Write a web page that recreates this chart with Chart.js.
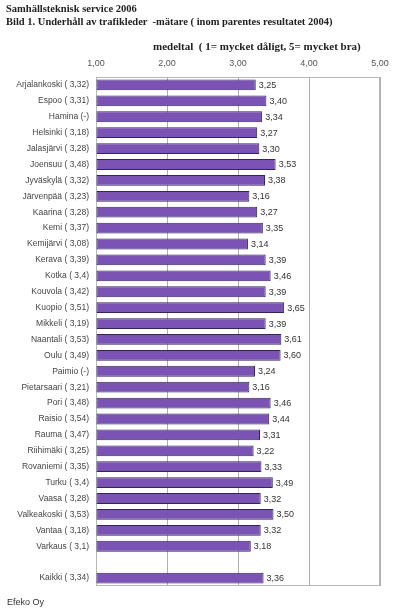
<!DOCTYPE html>
<html><head><meta charset="utf-8">
<script src="https://cdn.jsdelivr.net/npm/chart.js@4"></script>
<style>
html,body{margin:0;padding:0;background:#fff;width:397px;height:615px;overflow:hidden;}
#wrap{position:absolute;left:0;top:0;width:397px;height:615px;}
.t{position:absolute;font-family:"Liberation Serif","Times New Roman",serif;font-weight:bold;color:#222;white-space:nowrap;}
.f{position:absolute;font-family:"Liberation Sans",Arial,sans-serif;color:#333;font-size:9px;}
</style></head>
<body>
<div id="wrap"><canvas id="c" width="397" height="615"></canvas></div>
<div class="t" style="left:6px;top:3px;font-size:10.5px;">Samhällsteknisk service 2006</div>
<div class="t" style="left:6px;top:16px;font-size:10.5px;">Bild 1. Underhåll av trafikleder &nbsp;-mätare ( inom parentes resultatet 2004)</div>
<div class="t" style="left:153px;top:40px;font-size:11px;">medeltal &nbsp;( 1= mycket dåligt, 5= mycket bra)</div>
<div class="f" style="left:7px;top:597px;">Efeko Oy</div>
<script>
const categories = [
  "Arjalankoski ( 3,32)","Espoo ( 3,31)","Hamina (-)","Helsinki ( 3,18)","Jalasjärvi ( 3,28)",
  "Joensuu ( 3,48)","Jyväskylä ( 3,32)","Järvenpää ( 3,23)","Kaarina ( 3,28)","Kemi ( 3,37)",
  "Kemijärvi ( 3,08)","Kerava ( 3,39)","Kotka ( 3,4)","Kouvola ( 3,42)","Kuopio ( 3,51)",
  "Mikkeli ( 3,19)","Naantali ( 3,53)","Oulu ( 3,49)","Paimio (-)","Pietarsaari ( 3,21)",
  "Pori ( 3,48)","Raisio ( 3,54)","Rauma ( 3,47)","Riihimäki ( 3,25)","Rovaniemi ( 3,35)",
  "Turku ( 3,4)","Vaasa ( 3,28)","Valkeakoski ( 3,53)","Vantaa ( 3,18)","Varkaus ( 3,1)",
  "","Kaikki ( 3,34)"
];
const values2006 = [
  3.25,3.40,3.34,3.27,3.30,
  3.53,3.38,3.16,3.27,3.35,
  3.14,3.39,3.46,3.39,3.65,
  3.39,3.61,3.60,3.24,3.16,
  3.46,3.44,3.31,3.22,3.33,
  3.49,3.32,3.50,3.32,3.18,
  null,3.36
];
const tickValues = [1,2,3,4,5];
const fmt = v => v.toFixed(2).replace('.', ',');

const valueLabels = {
  id:'valueLabels',
  afterDatasetsDraw(chart){
    const ctx = chart.ctx;
    const meta = chart.getDatasetMeta(0);
    ctx.save();
    ctx.font = '9px "Liberation Sans", Arial, sans-serif';
    ctx.fillStyle = '#333';
    ctx.textBaseline = 'middle';
    ctx.textAlign = 'left';
    meta.data.forEach((bar,i)=>{
      const v = values2006[i];
      if(v==null) return;
      ctx.fillText(fmt(v), bar.x + 3, bar.y + 0.5);
    });
    ctx.restore();
  }
};
const frame = {
  id:'frame',
  beforeDatasetsDraw(chart){
    const a = chart.chartArea, ctx = chart.ctx;
    ctx.save();
    ctx.strokeStyle = '#b8b8b8';
    ctx.lineWidth = 1;
    ctx.strokeRect(Math.round(a.left)+0.5, Math.round(a.top)+0.5, Math.round(a.right-a.left)-1, Math.round(a.bottom-a.top)-1);
    ctx.restore();
  }
};

new Chart(document.getElementById('c'), {
  type:'bar',
  data:{
    labels: categories,
    datasets:[{
      data: values2006,
      base: 1,
      backgroundColor:'#7b53b5',
      borderColor:'#33245a',
      borderWidth:1,
      borderSkipped:false,
      categoryPercentage:0.68,
      barPercentage:1
    }]
  },
  options:{
    indexAxis:'y',
    responsive:false,
    animation:false,
    layout:{padding:{left:0,right:17,top:57,bottom:29}},
    plugins:{legend:{display:false},tooltip:{enabled:false},title:{display:false}},
    scales:{
      x:{
        position:'top',
        z:1,
        min:1,max:5,
        afterBuildTicks(s){ s.ticks = tickValues.map(v=>({value:v})); },
        afterFit(s){ s.height = 20; },
        ticks:{
          padding:8,
          color:'#555',
          font:{family:'"Liberation Sans", Arial, sans-serif',size:9},
          callback:v=>fmt(v)
        },
        grid:{color:'rgba(110,110,110,0.55)',drawTicks:false,lineWidth:1},
        border:{display:false}
      },
      y:{
        afterFit(s){ s.width = 96; },
        ticks:{
          padding:7,
          color:'#444',
          autoSkip:false,
          font:{family:'"Liberation Sans", Arial, sans-serif',size:8.5}
        },
        grid:{display:false,drawTicks:false},
        border:{display:false}
      }
    }
  },
  plugins:[frame,valueLabels]
});
</script>
</body></html>
